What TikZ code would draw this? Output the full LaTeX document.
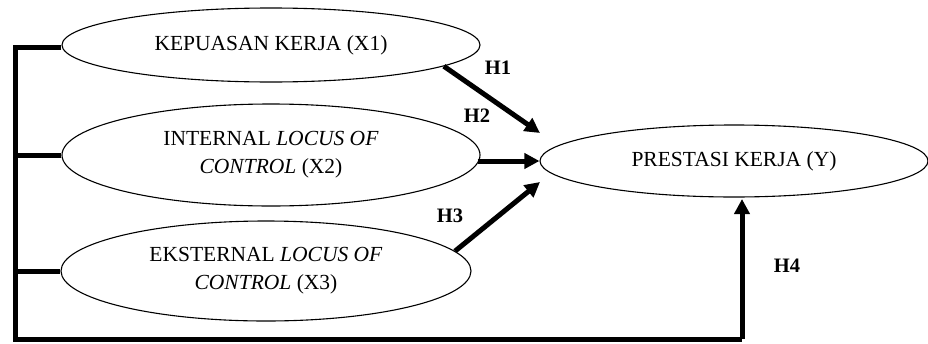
\documentclass[tikz,border=0pt]{standalone}
\usepackage{fontspec}
\setmainfont{Liberation Serif}
\usetikzlibrary{shapes.geometric,arrows.meta}
\begin{document}
\begin{tikzpicture}[x=1pt,y=-1pt,
  var/.style={draw,ellipse,line width=1.1pt,inner sep=0pt,align=center,
    font=\fontsize{21.5}{28}\selectfont},
  link/.style={line width=5pt,line join=miter},
  arr/.style={link,-{Triangle[length=15pt,width=15pt]}},
  hlab/.style={font=\fontsize{20.5}{22}\selectfont\bfseries,inner sep=0pt}]
\useasboundingbox (0,0) rectangle (928,343);
\node[var,minimum width=418pt,minimum height=74pt] (x1) at (271,45) {KEPUASAN KERJA (X1)};
\node[var,minimum width=418pt,minimum height=102pt] (x2) at (271,155) {INTERNAL \textit{LOCUS OF}\\\textit{CONTROL} (X2)};
\node[var,minimum width=410pt,minimum height=100pt] (x3) at (266,271) {EKSTERNAL \textit{LOCUS OF}\\\textit{CONTROL} (X3)};
\node[var,minimum width=388pt,minimum height=72pt] (y) at (734,161) {PRESTASI KERJA (Y)};
\coordinate (bt) at (15,47);
\coordinate (bb) at (15,339);
\coordinate (bc) at (742,339);
\coordinate (t1) at (540,133);
\coordinate (t3) at (540,182);
\coordinate (t4) at (742,199);
\draw[link] (x1.west |- bt) -- (bt) -- (bb) -- (bc);
\draw[link] (x2.west) -- (x2.west -| bt);
\draw[link] (x3.west) -- (x3.west -| bt);
\draw[arr] (x1.-7.7) -- (t1);
\draw[arr] ([xshift=-3pt]x2.east |- y.west) -- (y.west);
\draw[arr] (x3.6.3) -- (t3);
\draw[arr] (bc) -- (t4);
\node[hlab] (h1) at (498,68) {H1};
\node[hlab] (h2) at (477,116) {H2};
\node[hlab] (h3) at (450,216) {H3};
\node[hlab] (h4) at (787,266) {H4};
\end{tikzpicture}
\end{document}
